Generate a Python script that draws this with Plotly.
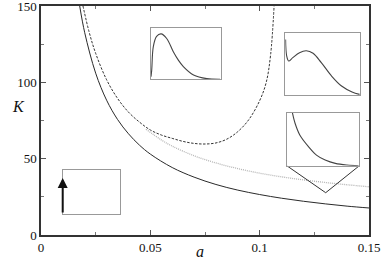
import plotly.graph_objects as go

# ---- main curves ----
solid_a = [0.0177, 0.02, 0.025, 0.03, 0.035, 0.04, 0.045, 0.05, 0.06, 0.07, 0.08, 0.09, 0.10, 0.11, 0.12, 0.13, 0.14, 0.15]
solid_K = [150, 132.5, 106, 88.3, 75.7, 66.3, 58.9, 53, 44.2, 37.9, 33.1, 29.4, 26.5, 24.1, 22.1, 20.4, 18.9, 17.7]

dashed_a = [0.0192, 0.022, 0.025, 0.03, 0.035, 0.04, 0.045, 0.05, 0.055, 0.06, 0.065, 0.07, 0.075, 0.08, 0.085, 0.09, 0.095, 0.10, 0.103, 0.105, 0.1066]
dashed_K = [150, 133, 119, 101.7, 89.5, 80.5, 74, 68.8, 65.5, 63.3, 61.3, 60.0, 59.6, 60.3, 62.8, 67.7, 75.5, 88, 100, 118, 150]

dotted_a = [0.048, 0.055, 0.06, 0.07, 0.08, 0.09, 0.10, 0.11, 0.12, 0.13, 0.14, 0.15]
dotted_K = [69.3, 62.3, 58.2, 51.9, 47.2, 43.5, 40.5, 38.1, 36.1, 34.4, 32.9, 31.6]

# zoom marker (triangle under the lower-right inset), main-axis coordinates
marker_a = [0.1124, 0.1302, 0.1456]
marker_K = [45.4, 27.7, 45.4]

# ---- inset curves (normalised units) ----
in1_x = [0.0, 0.01, 0.033, 0.08, 0.144, 0.225, 0.32, 0.39, 0.464, 0.61, 0.80, 0.99]
in1_y = [0.05, 0.18, 0.64, 0.84, 0.89, 0.80, 0.54, 0.38, 0.25, 0.085, 0.013, 0.0]

in2_x = [0.004, 0.018, 0.045, 0.10, 0.19, 0.28, 0.37, 0.48, 0.62, 0.75, 0.89, 0.99]
in2_y = [0.89, 0.63, 0.545, 0.60, 0.68, 0.71, 0.67, 0.52, 0.30, 0.144, 0.048, 0.01]

in3_x = [0.078, 0.115, 0.18, 0.30, 0.41, 0.53, 0.67, 0.83, 0.99]
in3_y = [1.0, 0.80, 0.58, 0.36, 0.20, 0.107, 0.044, 0.013, 0.0]

arrow_x = [0.0, 0.0]
arrow_y = [0.0, 0.82]

x_ticks = [0, 0.05, 0.1, 0.15]
x_ticklabels = ["0", "0.05", "0.1", "0.15"]
y_ticks = [0, 50, 100, 150]
y_ticklabels = ["0", "50", "100", "150"]

fig = go.Figure()
fig.add_trace(go.Scatter(x=solid_a, y=solid_K, mode="lines", line=dict(color="#2a2a2a", width=1.0, shape="spline"), showlegend=False))
fig.add_trace(go.Scatter(x=dashed_a, y=dashed_K, mode="lines", line=dict(color="#333", width=1, dash="2.5px,1.5px", shape="spline"), showlegend=False))
fig.add_trace(go.Scatter(x=dotted_a, y=dotted_K, mode="lines", line=dict(color="#b5b5b5", width=1.3, dash="1px,1px", shape="spline"), showlegend=False))
fig.add_trace(go.Scatter(x=marker_a, y=marker_K, mode="lines", line=dict(color="#333", width=1), showlegend=False))

fig.add_trace(go.Scatter(x=in1_x, y=in1_y, xaxis="x2", yaxis="y2", mode="lines", line=dict(color="#444", width=1.1, shape="spline"), showlegend=False))
fig.add_trace(go.Scatter(x=in2_x, y=in2_y, xaxis="x3", yaxis="y3", mode="lines", line=dict(color="#444", width=1.1, shape="spline"), showlegend=False))
fig.add_trace(go.Scatter(x=in3_x, y=in3_y, xaxis="x4", yaxis="y4", mode="lines", line=dict(color="#444", width=1.1, shape="spline"), showlegend=False))
fig.add_trace(go.Scatter(x=arrow_x, y=arrow_y, xaxis="x5", yaxis="y5", mode="lines", line=dict(color="rgba(0,0,0,0)", width=1), showlegend=False))

serif = "Liberation Serif, Times New Roman, serif"
axis_font = dict(family=serif, size=13, color="#111")
main_axis = dict(showline=True, linecolor="#333", linewidth=1.5, mirror="allticks", ticks="inside",
                 ticklen=5, tickcolor="#555", showgrid=False, zeroline=False, tickfont=axis_font,
                 ticklabeloverflow="allow")

inset_axis = dict(showline=True, linecolor="#999", linewidth=1.2, mirror=True, ticks="",
                  showticklabels=False, showgrid=False, zeroline=False, fixedrange=True)

fig.update_layout(
    width=382, height=261,
    margin=dict(l=41, r=13, t=6, b=26, autoexpand=False),
    paper_bgcolor="white", plot_bgcolor="white",
    xaxis=dict(main_axis, range=[0, 0.15], tickvals=x_ticks, ticktext=x_ticklabels,
               minor=dict(dtick=0.025, ticks="inside", ticklen=3, tickcolor="#777")),
    yaxis=dict(main_axis, range=[0, 150], tickvals=y_ticks, ticktext=y_ticklabels,
               minor=dict(dtick=25, ticks="inside", ticklen=3, tickcolor="#777")),
    xaxis2=dict(inset_axis, domain=[0.3354, 0.5479], range=[0, 1], anchor="y2"),
    yaxis2=dict(inset_axis, domain=[0.680, 0.9026], range=[0, 1], anchor="x2"),
    xaxis3=dict(inset_axis, domain=[0.7448, 0.9735], range=[0, 1], anchor="y3"),
    yaxis3=dict(inset_axis, domain=[0.6114, 0.8834], range=[0, 1], anchor="x3"),
    xaxis4=dict(inset_axis, domain=[0.7491, 0.9704], range=[0, 1], anchor="y4"),
    yaxis4=dict(inset_axis, domain=[0.3026, 0.5341], range=[0, 1], anchor="x4"),
    xaxis5=dict(inset_axis, domain=[0.0662, 0.2409], range=[0, 1], anchor="y5"),
    yaxis5=dict(inset_axis, domain=[0.0917, 0.2838], range=[0, 1], anchor="x5"),
    annotations=[
        dict(x=arrow_x[1], y=arrow_y[1], ax=arrow_x[0], ay=arrow_y[0], xref="x5", yref="y5",
             axref="x5", ayref="y5", showarrow=True, arrowhead=2, arrowsize=1, arrowwidth=2,
             arrowcolor="#111", text=""),
        dict(text="<i>K</i>", x=-0.095, y=0.56, xref="paper", yref="paper", showarrow=False,
             font=dict(family=serif, size=16, color="#111")),
        dict(text="<i>a</i>", x=0.485, y=-0.074, xref="paper", yref="paper", showarrow=False,
             yanchor="middle", font=dict(family=serif, size=16, color="#111")),
    ],
)

fig.write_html("out.html", config={"displayModeBar": False},
               post_script="document.body.style.margin='0';document.body.style.overflow='hidden';")
